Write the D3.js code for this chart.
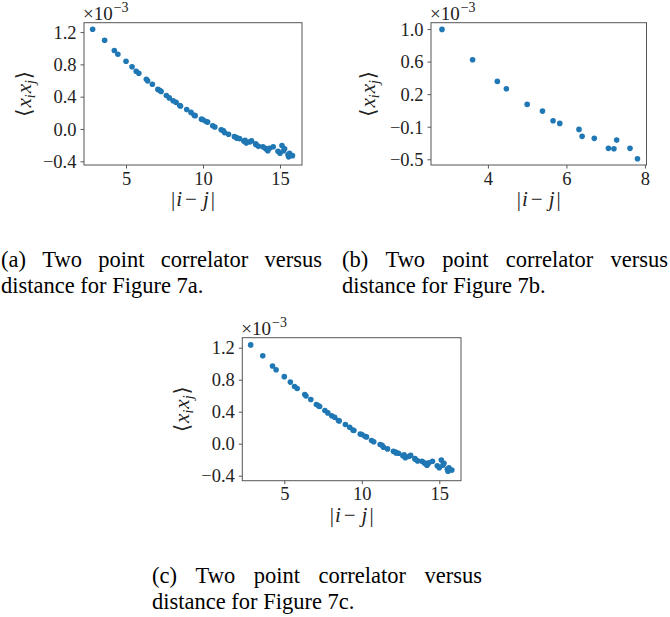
<!DOCTYPE html>
<html><head><meta charset="utf-8">
<script src="https://cdn.jsdelivr.net/npm/d3@7"></script>
<style>body{margin:0;background:#fff} svg{display:block}</style>
</head><body>
<svg id="chart" width="670" height="617"></svg>
<script>
// ---- data (values in units of 1e-3) ----
const distA = [2.83,3.61,4.24,4.47,5.00,5.39,5.66,5.83,6.32,6.40,6.71,7.07,7.21,7.28,7.62,7.81,8.06,8.25,8.49,8.54,8.94,9.22,9.43,9.49,9.90,10.00,10.20,10.30,10.63,10.77,11.18,11.31,11.40,11.66,12.04,12.17,12.21,12.37,12.65,12.73,12.81,13.04,13.15,13.42,13.45,13.60,13.89,14.04,14.14,14.21,14.32,14.56,14.87,15.00,15.13,15.23,15.30,15.52,15.56,15.62,15.81];
const corrA = [1.235,1.098,0.972,0.925,0.838,0.770,0.715,0.690,0.615,0.596,0.553,0.490,0.475,0.465,0.415,0.385,0.350,0.330,0.290,0.285,0.240,0.205,0.170,0.165,0.122,0.115,0.092,0.085,0.040,0.025,-0.010,-0.020,-0.045,-0.065,-0.095,-0.105,-0.115,-0.120,-0.150,-0.140,-0.175,-0.160,-0.145,-0.185,-0.195,-0.215,-0.220,-0.240,-0.255,-0.270,-0.240,-0.220,-0.275,-0.300,-0.205,-0.270,-0.245,-0.320,-0.345,-0.300,-0.330];
const distB = [2.83,3.61,4.24,4.47,5.00,5.39,5.66,5.83,6.32,6.40,6.71,7.07,7.21,7.28,7.62,7.81];
const corrB = [0.996,0.646,0.397,0.312,0.132,0.055,-0.056,-0.087,-0.156,-0.236,-0.259,-0.374,-0.379,-0.279,-0.374,-0.494];
const distC = distA;
const corrC = corrA;

const xTicksAC = [5,10,15];
const yTicksAC = [-0.4,0,0.4,0.8,1.2];
const yTickLabelsAC = ["\u22120.4","0.0","0.4","0.8","1.2"];
const xTicksB = [4,6,8];
const yTicksB = [-0.5,-0.125,0.25,0.625,1.0];
const yTickLabelsB = ["\u22120.5","\u22120.1","0.2","0.6","1.0"];

const captionA = ["(a) Two point correlator versus","distance for Figure 7a."];
const captionB = ["(b) Two point correlator versus","distance for Figure 7b."];
const captionC = ["(c) Two point correlator versus","distance for Figure 7c."];

// ---- layout ----
const svg = d3.select("#chart");
const BLUE = "#1f77b4";
const MATH = "'Liberation Serif','DejaVu Serif',serif";
const TXT = "#222";

const panels = [
  {x: distA, y: corrA, l: 84, r: 302, t: 22.7, b: 165, xd: [2.27,16.43], yd: [-0.446,1.316], xt: xTicksAC, yt: yTicksAC, ytl: yTickLabelsAC, ylabX: 24},
  {x: distB, y: corrB, l: 431, r: 646.5, t: 22.7, b: 165, xd: [2.55,8.04], yd: [-0.566,1.073], xt: xTicksB, yt: yTicksB, ytl: yTickLabelsB, ylabX: 368},
  {x: distC, y: corrC, l: 242.3, r: 461, t: 337.7, b: 480.7, xd: [2.29,16.4], yd: [-0.4625,1.325], xt: xTicksAC, yt: yTicksAC, ytl: yTickLabelsAC, ylabX: 182}
];

panels.forEach(p => {
  const xs = d3.scaleLinear().domain(p.xd).range([p.l, p.r]);
  const ys = d3.scaleLinear().domain(p.yd).range([p.b, p.t]);
  const g = svg.append("g");

  // axes
  const xa = g.append("g").attr("transform", `translate(0,${p.b})`)
    .call(d3.axisBottom(xs).tickValues(p.xt).tickFormat(d3.format("d")).tickSize(3.5).tickPadding(3));
  const ya = g.append("g").attr("transform", `translate(${p.l},0)`)
    .call(d3.axisLeft(ys).tickValues(p.yt).tickFormat((d,i) => p.ytl[i]).tickSize(3.5).tickPadding(4));
  [xa, ya].forEach(a => {
    a.select(".domain").remove();
    a.selectAll(".tick line").attr("stroke", "#444").attr("stroke-width", 0.9);
    a.selectAll(".tick text").attr("font-family", MATH).attr("font-size", 18.5).attr("fill", TXT);
  });
  ya.selectAll(".tick text").attr("dy", "0.34em");

  // frame
  g.append("rect").attr("x", p.l).attr("y", p.t).attr("width", p.r - p.l).attr("height", p.b - p.t)
    .attr("fill", "none").attr("stroke", "#555").attr("stroke-width", 1);

  // points
  g.append("g").selectAll("circle").data(p.x).join("circle")
    .attr("cx", d => xs(d)).attr("cy", (d,i) => ys(p.y[i])).attr("r", 2.8).attr("fill", BLUE);

  // offset text x10^-3
  const off = g.append("text").attr("x", p.l - 1).attr("y", p.t - 2.5)
    .attr("font-family", MATH).attr("font-size", 19).attr("fill", TXT);
  off.append("tspan").text("\u00d710");
  off.append("tspan").attr("dy", -8).attr("dx", 1).attr("font-size", 14).text("\u22123");

  // x label
  const xl = g.append("text").attr("x", (p.l + p.r) / 2).attr("y", p.b + 41)
    .attr("text-anchor", "middle").attr("font-family", MATH).attr("font-size", 21).attr("fill", TXT);
  xl.append("tspan").text("|");
  xl.append("tspan").attr("font-style", "italic").attr("dx", 1).text("i");
  xl.append("tspan").attr("dx", 3).text("\u2212");
  xl.append("tspan").attr("font-style", "italic").attr("dx", 6).text("j");
  xl.append("tspan").attr("dx", 2).text("|");

  // y label
  const cy = (p.t + p.b) / 2;
  const yl = g.append("text").attr("transform", `translate(${p.ylabX + 7},${cy}) rotate(-90)`)
    .attr("text-anchor", "middle").attr("font-family", MATH).attr("font-size", 21).attr("fill", TXT);
  yl.append("tspan").text("\u27e8");
  yl.append("tspan").attr("font-style", "italic").attr("dx", 1).text("x");
  yl.append("tspan").attr("font-style", "italic").attr("font-size", 14).attr("dy", 4).text("i");
  yl.append("tspan").attr("font-style", "italic").attr("dy", -4).attr("dx", 1).text("x");
  yl.append("tspan").attr("font-style", "italic").attr("font-size", 14).attr("dy", 4).text("j");
  yl.append("tspan").attr("dy", -4).attr("dx", 1).text("\u27e9");
});

// ---- captions (justified first line) ----
const CAP = "'Liberation Serif','Times New Roman',serif";
const CAPSIZE = 22.5;
function caption(lines, x0, width, y0) {
  lines.forEach((line, li) => {
    const y = y0 + li * 26;
    if (li < lines.length - 1) {
      const words = line.split(" ");
      const ts = words.map(w => svg.append("text").attr("y", y).attr("font-family", CAP)
        .attr("font-size", CAPSIZE).attr("fill", "#000").text(w));
      const ws = ts.map(t => t.node().getComputedTextLength());
      const gap = (width - d3.sum(ws)) / (words.length - 1);
      let x = x0;
      ts.forEach((t, i) => { t.attr("x", x); x += ws[i] + gap; });
    } else {
      svg.append("text").attr("x", x0).attr("y", y).attr("font-family", CAP)
        .attr("font-size", CAPSIZE).attr("fill", "#000").text(line);
    }
  });
}
caption(captionA, 1, 321, 267);
caption(captionB, 342, 326, 267);
caption(captionC, 152, 330, 583);
</script>
</body></html>
